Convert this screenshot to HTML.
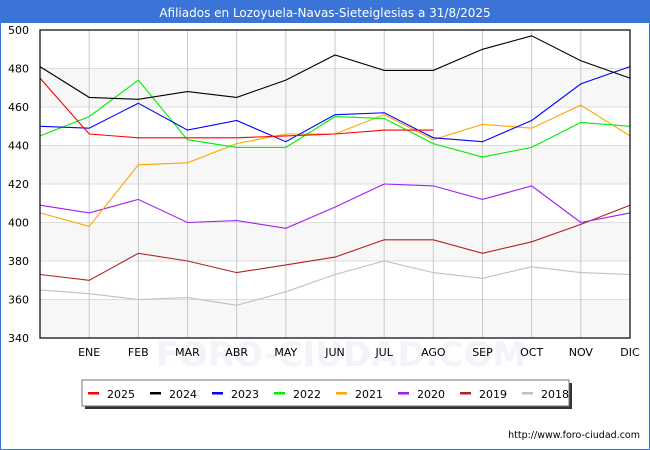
<!DOCTYPE html>
<html><head><meta charset="utf-8"><style>
body{margin:0;background:#fff;}
#wrap{position:relative;width:648px;height:448px;border:1px solid #3a74d6;background:#fff;overflow:hidden;}
svg text{font-family:"DejaVu Sans","Liberation Sans",sans-serif;}
</style></head><body>
<div id="wrap">
<svg id="chart" width="648" height="448"></svg>
</div>
<script>
const months = ["","ENE","FEB","MAR","ABR","MAY","JUN","JUL","AGO","SEP","OCT","NOV","DIC"];
const yTicks = [340,360,380,400,420,440,460,480,500];
const years = ["2025","2024","2023","2022","2021","2020","2019","2018"];
const colors = ["#ff0000","#000000","#0000ff","#00ee00","#ffa500","#a020f0","#b22222","#c0c0c0"];
const s2025 = [475,446,444,444,444,445,446,448,448];
const s2024 = [481,465,464,468,465,474,487,479,479,490,497,484,475];
const s2023 = [450,449,462,448,453,442,456,457,444,442,453,472,481];
const s2022 = [445,455,474,443,439,439,455,454,441,434,439,452,450];
const s2021 = [405,398,430,431,441,446,446,456,443,451,449,461,445];
const s2020 = [409,405,412,400,401,397,408,420,419,412,419,400,405];
const s2019 = [373,370,384,380,374,378,382,391,391,384,390,399,409];
const s2018 = [365,363,360,361,357,364,373,380,374,371,377,374,373];
const series = [s2025,s2024,s2023,s2022,s2021,s2020,s2019,s2018];

const NS="http://www.w3.org/2000/svg";
const svg=document.getElementById('chart');
const L=39,R=629,T=29,B=337;
const x=i=>L+(R-L)*i/12;
const y=v=>B-(v-340)/(160)*(B-T);
function mk(tag,attrs,parent){const e=document.createElementNS(NS,tag);for(const k in attrs)e.setAttribute(k,attrs[k]);(parent||svg).appendChild(e);return e;}

let tb=mk('rect',{x:0,y:0,width:648,height:22,fill:'#3a74d6'});


let tt=mk('text',{x:324,y:16,'text-anchor':'middle','font-size':12,fill:'#fff'});
tt.textContent="Afiliados en Lozoyuela-Navas-Sieteiglesias a 31/8/2025";



// watermark (behind)
let wm=mk('text',{x:340,y:365,'text-anchor':'middle','font-size':34,fill:'#f3f4f9','font-weight':'bold'});
wm.textContent="FORO-CIUDAD.COM";



for(let i=0;i<yTicks.length-1;i++){
  if(i%2===0){
    const b=mk('rect',{x:L,y:y(yTicks[i+1]),width:R-L,height:y(yTicks[i])-y(yTicks[i+1]),fill:'#f7f7f7'});
    
    
  }
}
yTicks.forEach(v=>{
  const g=mk('line',{x1:L,x2:R,y1:y(v),y2:y(v),stroke:'#dddddd','stroke-width':1});
  
  
  const t=mk('text',{x:L-11,y:y(v)+4,'text-anchor':'end','font-size':11,fill:'#000'});
  t.textContent=v;
  
  
});
months.forEach((m,i)=>{
  if(i>0&&i<12){
    const g=mk('line',{x1:x(i),x2:x(i),y1:T,y2:B,stroke:'#c8c8c8','stroke-width':1});
    
    
  }
  if(m){
    const t=mk('text',{x:x(i),y:B+18,'text-anchor':'middle','font-size':11,fill:'#000'});
    t.textContent=m;
    
    
  }
});

for(let s=series.length-1;s>=0;s--){
  const pts=series[s].map((v,i)=>x(i).toFixed(1)+','+y(v).toFixed(1)).join(' ');
  const p=mk('polyline',{points:pts,fill:'none',stroke:colors[s],'stroke-width':1.1});
  
  
}
let fr=mk('rect',{x:L,y:T,width:R-L,height:B-T,fill:'none',stroke:'#000','stroke-width':1.2});



let ls=mk('rect',{x:84,y:382,width:487,height:26,fill:'#333'});


let lb=mk('rect',{x:81,y:379,width:487,height:26,fill:'#fff',stroke:'#777','stroke-width':1});


years.forEach((yr,i)=>{
  const lx=87+i*62;
  const sw=mk('rect',{x:lx,y:391,width:11,height:2.5,fill:colors[i]});
  
  
  const t=mk('text',{x:lx+19,y:397,'font-size':11,fill:'#000'});
  t.textContent=yr;
  
  
});
let url=mk('text',{x:639,y:437,'text-anchor':'end','font-size':9.5,fill:'#000'});
url.textContent="http://www.foro-ciudad.com";


</script>
</body></html>
